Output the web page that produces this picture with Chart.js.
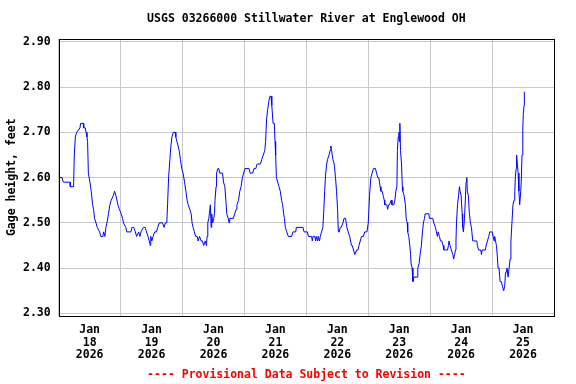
<!DOCTYPE html>
<html>
<head>
<meta charset="utf-8">
<script src="https://cdn.jsdelivr.net/npm/chart.js@4.4.1/dist/chart.umd.min.js"></script>
<style>
  html, body { margin: 0; padding: 0; background: #fff; }
  #wrap { width: 576px; height: 384px; }
</style>
</head>
<body>
<div id="wrap"><canvas id="gageChart" width="576" height="384"></canvas></div>
<script>
// hours since Jan 18 2026 00:00
const hours = [
  0, 0.5, 1.3, 1.8, 4.4, 4.5, 5.7, 5.8, 6.05, 6.45, 6.95, 8.25, 8.5, 9.5, 9.7, 10.3, 10.6, 10.95, 11.2, 11.5,
  12.1, 12.6, 13.15, 13.5, 13.9, 14.45, 14.95, 15.85, 16.35, 17.15, 17.4, 17.9, 18.3, 18.7, 19.3, 19.85, 20.35, 21.15, 21.65, 22.2,
  22.95, 23.5, 24.25, 24.75, 25.1, 26.0, 26.4, 28.0, 28.4, 29.1, 29.7, 30.2, 31.0, 31.5, 31.9, 32.8, 33.5, 34.05, 34.6, 35.1,
  35.5, 35.7, 36.1, 36.6, 37.2, 37.9, 38.4, 39.0, 40.2, 40.9, 41.3, 41.9, 42.2, 42.6, 43.1, 43.5, 43.9, 44.4, 45.2, 45.4,
  45.8, 46.3, 46.7, 47.2, 47.7, 48.2, 48.8, 49.3, 49.8, 50.2, 50.8, 51.35, 51.7, 52.1, 52.6, 53.1, 53.7, 54.05, 54.6, 55.2,
  55.7, 56.2, 56.8, 57.3, 57.5, 57.8, 58.2, 58.4, 58.8, 59.1, 59.3, 59.7, 60.1, 60.4, 60.6, 61.0, 61.2, 61.7, 62.05, 62.4,
  63.5, 63.9, 64.4, 64.8, 65.15, 65.7, 66.05, 66.3, 67.7, 68.2, 68.8, 69.1, 69.7, 70.2, 70.7, 71.2, 71.7, 72.2, 73.8, 74.2,
  74.6, 75.2, 75.7, 76.4, 76.9, 77.7, 78.2, 78.7, 79.3, 79.9, 80.2, 80.6, 81.0, 81.5, 81.9, 82.3, 82.6, 83.1, 83.6, 83.85,
  84.1, 84.4, 84.9, 85.4, 85.9, 86.4, 86.8, 87.2, 87.5, 87.85, 88.4, 89.0, 90.3, 90.8, 91.9, 92.1, 94.7, 95.1, 96.4, 96.8,
  98.05, 98.3, 98.6, 99.3, 99.6, 99.85, 100.4, 100.6, 101.1, 101.4, 101.9, 102.4, 102.7, 103.1, 103.5, 103.9, 104.2, 104.8, 105.2, 105.5,
  105.8, 106.3, 106.8, 107.3, 107.7, 108.1, 108.4, 108.8, 109.1, 109.5, 110.2, 110.6, 111.2, 111.7, 112.2, 112.8, 113.5, 113.8, 114.3, 114.8,
  115.5, 116.0, 116.4, 116.9, 117.4, 118.1, 118.6, 119.5, 120.0, 120.5, 121.0, 121.5, 122.0, 122.8, 123.2, 123.7, 124.1, 124.6, 124.9, 125.4,
  125.8, 126.2, 126.4, 127.2, 127.5, 127.9, 128.2, 128.9, 129.2, 129.9, 130.3, 130.7, 131.1, 131.3, 131.6, 131.9, 132.0, 132.25, 132.5, 132.9,
  133.2, 133.4, 133.9, 134.4, 134.7, 135.1, 135.3, 135.7, 136.1, 136.4, 136.6, 137.0, 137.3, 137.7, 138.95, 139.2, 139.7, 140.1, 140.6, 141.0,
  141.4, 141.8, 142.05, 143.5, 143.7, 145.0, 145.4, 146.05, 146.4, 146.8, 147.1, 147.6, 148.0, 148.5, 149.0, 149.3, 150.7, 151.1, 151.3, 151.7,
  152.2, 152.8, 153.1, 153.5, 153.8, 154.0, 154.2, 154.6, 155.0, 155.35, 155.6, 156.0, 156.4, 156.6, 156.9, 157.3, 157.7, 157.9, 158.2, 158.4,
  158.8, 159.2, 159.6, 160.0, 160.5, 162.1, 162.3, 162.8, 163.6, 163.9, 164.1, 165.4, 165.7, 166.2, 166.7, 167.1, 167.6, 168.0, 168.4, 168.8,
  169.0, 169.3, 169.7, 170.1, 170.3, 170.7, 171.1, 171.6, 172.0, 172.5, 172.9, 173.2, 173.5, 173.8, 174.2, 174.6, 175.0, 175.3, 175.7, 176.1,
  176.5, 176.8, 177.0, 177.3, 177.5, 177.8, 178.1, 178.4, 178.7, 179.1, 179.3, 179.6, 179.9, 180.1, 180.4, 180.5
];

// gage height, feet
const gageFeet = [
  2.61, 2.60, 2.60, 2.59, 2.59, 2.58, 2.58, 2.59, 2.65, 2.69, 2.70, 2.71, 2.72, 2.72, 2.71, 2.71, 2.70, 2.69, 2.68, 2.61,
  2.59, 2.57, 2.54, 2.53, 2.51, 2.50, 2.49, 2.48, 2.47, 2.47, 2.48, 2.47, 2.49, 2.50, 2.52, 2.54, 2.55, 2.56, 2.57, 2.56,
  2.54, 2.53, 2.52, 2.51, 2.50, 2.49, 2.48, 2.48, 2.49, 2.49, 2.48, 2.47, 2.48, 2.47, 2.48, 2.49, 2.49, 2.48, 2.47, 2.46,
  2.45, 2.47, 2.46, 2.47, 2.48, 2.48, 2.49, 2.50, 2.50, 2.49, 2.50, 2.50, 2.54, 2.60, 2.64, 2.67, 2.69, 2.70, 2.70, 2.69,
  2.68, 2.67, 2.66, 2.64, 2.62, 2.61, 2.59, 2.57, 2.55, 2.54, 2.53, 2.52, 2.50, 2.49, 2.48, 2.47, 2.47, 2.46, 2.47, 2.46,
  2.46, 2.45, 2.46, 2.45, 2.47, 2.50, 2.51, 2.52, 2.54, 2.49, 2.52, 2.50, 2.51, 2.52, 2.55, 2.58, 2.61, 2.62, 2.62, 2.61,
  2.61, 2.59, 2.58, 2.55, 2.52, 2.51, 2.50, 2.51, 2.51, 2.52, 2.53, 2.54, 2.55, 2.57, 2.58, 2.60, 2.61, 2.62, 2.62, 2.61,
  2.61, 2.61, 2.62, 2.62, 2.63, 2.63, 2.63, 2.64, 2.65, 2.66, 2.68, 2.73, 2.75, 2.77, 2.78, 2.78, 2.76, 2.72, 2.72, 2.68,
  2.65, 2.60, 2.59, 2.58, 2.57, 2.55, 2.54, 2.52, 2.51, 2.49, 2.48, 2.47, 2.47, 2.48, 2.48, 2.49, 2.49, 2.48, 2.48, 2.47,
  2.47, 2.46, 2.47, 2.47, 2.46, 2.47, 2.46, 2.47, 2.46, 2.47, 2.48, 2.49, 2.52, 2.57, 2.61, 2.63, 2.64, 2.65, 2.66, 2.67,
  2.66, 2.64, 2.63, 2.60, 2.57, 2.53, 2.48, 2.48, 2.49, 2.49, 2.50, 2.51, 2.51, 2.49, 2.48, 2.47, 2.45, 2.45, 2.44, 2.43,
  2.44, 2.44, 2.45, 2.46, 2.47, 2.47, 2.48, 2.48, 2.50, 2.56, 2.60, 2.61, 2.62, 2.62, 2.61, 2.60, 2.60, 2.58, 2.57, 2.57,
  2.56, 2.55, 2.54, 2.54, 2.53, 2.54, 2.54, 2.55, 2.54, 2.54, 2.55, 2.57, 2.58, 2.66, 2.69, 2.70, 2.68, 2.72, 2.66, 2.63,
  2.58, 2.57, 2.56, 2.54, 2.51, 2.50, 2.48, 2.47, 2.45, 2.43, 2.41, 2.40, 2.37, 2.38, 2.38, 2.40, 2.41, 2.43, 2.45, 2.48,
  2.50, 2.51, 2.52, 2.52, 2.51, 2.51, 2.50, 2.49, 2.48, 2.47, 2.48, 2.47, 2.46, 2.46, 2.45, 2.44, 2.44, 2.45, 2.46, 2.45,
  2.44, 2.43, 2.42, 2.43, 2.44, 2.46, 2.50, 2.54, 2.56, 2.58, 2.57, 2.56, 2.52, 2.49, 2.48, 2.51, 2.56, 2.59, 2.60, 2.57,
  2.56, 2.52, 2.50, 2.49, 2.46, 2.46, 2.45, 2.44, 2.44, 2.43, 2.44, 2.44, 2.45, 2.46, 2.47, 2.48, 2.48, 2.48, 2.47, 2.46,
  2.47, 2.46, 2.45, 2.42, 2.40, 2.40, 2.37, 2.37, 2.36, 2.35, 2.36, 2.39, 2.39, 2.40, 2.38, 2.40, 2.42, 2.46, 2.50, 2.54,
  2.55, 2.57, 2.60, 2.62, 2.65, 2.63, 2.61, 2.57, 2.54, 2.57, 2.59, 2.65, 2.71, 2.74, 2.76, 2.79
];

const yTicks = [2.30, 2.40, 2.50, 2.60, 2.70, 2.80, 2.90];
const dayLabels = ['18', '19', '20', '21', '22', '23', '24', '25'];
const monthLabel = 'Jan';
const yearLabel = '2026';

const monoBold = { family: "'DejaVu Sans Mono', monospace", size: 11.5, weight: 'bold' };

// black frame round the plot
const framePlugin = {
  id: 'frame',
  afterDraw(chart) {
    const a = chart.chartArea;
    const ctx = chart.ctx;
    ctx.save();
    ctx.strokeStyle = '#000';
    ctx.lineWidth = 1;
    ctx.strokeRect(Math.round(a.left) + 0.5, Math.round(a.top) + 0.5,
      Math.round(a.right - a.left), Math.round(a.bottom - a.top));
    ctx.restore();
  }
};

new Chart(document.getElementById('gageChart'), {
  type: 'line',
  data: {
    datasets: [{
      data: hours.map((h, i) => ({ x: h, y: gageFeet[i] })),
      borderColor: '#0000ff',
      borderWidth: 1,
      pointRadius: 0,
      tension: 0,
      fill: false
    }]
  },
  options: {
    responsive: false,
    animation: false,
    devicePixelRatio: 1,
    layout: { padding: { left: 0, right: 22, top: 0, bottom: 0 } },
    plugins: {
      legend: { display: false },
      tooltip: { enabled: false },
      title: {
        display: true,
        text: 'USGS 03266000 Stillwater River at Englewood OH',
        color: '#000',
        font: monoBold,
        fullSize: false,
        padding: { top: 12, bottom: 13 }
      },
      subtitle: {
        display: true,
        position: 'bottom',
        text: '---- Provisional Data Subject to Revision ----',
        color: '#ff0000',
        font: monoBold,
        fullSize: false,
        padding: { top: 0, bottom: 2 }
      }
    },
    scales: {
      x: {
        type: 'linear',
        min: 0,
        max: dayLabels.length * 24,
        afterBuildTicks: (scale) => {
          const t = [];
          for (let i = 0; i <= dayLabels.length * 2; i++) t.push({ value: i * 12 });
          scale.ticks = t;
        },
        afterFit: (scale) => { scale.height = 52.5; },
        grid: {
          drawTicks: false,
          color: (c) => (c.tick && c.tick.value % 24 === 0) ? '#c8c8c8' : 'rgba(0,0,0,0)',
          lineWidth: 1
        },
        border: { display: false },
        ticks: {
          autoSkip: false,
          maxRotation: 0,
          padding: 8,
          color: '#000',
          font: Object.assign({ lineHeight: 1.1 }, monoBold),
          callback: (v) => (v % 24 === 12) ? [monthLabel, dayLabels[(v - 12) / 24], yearLabel] : ''
        }
      },
      y: {
        min: 2.2947,
        max: 2.907,
        afterBuildTicks: (scale) => { scale.ticks = yTicks.map(v => ({ value: v })); },
        afterFit: (scale) => { scale.width = 58.7; },
        grid: { drawTicks: false, color: '#c8c8c8', lineWidth: 1 },
        border: { display: false },
        ticks: {
          padding: 8,
          color: '#000',
          font: monoBold,
          callback: (v) => v.toFixed(2)
        },
        title: {
          display: true,
          text: 'Gage height, feet',
          color: '#000',
          font: monoBold,
          padding: { top: 5, bottom: 0 }
        }
      }
    }
  },
  plugins: [framePlugin]
});
</script>
</body>
</html>
